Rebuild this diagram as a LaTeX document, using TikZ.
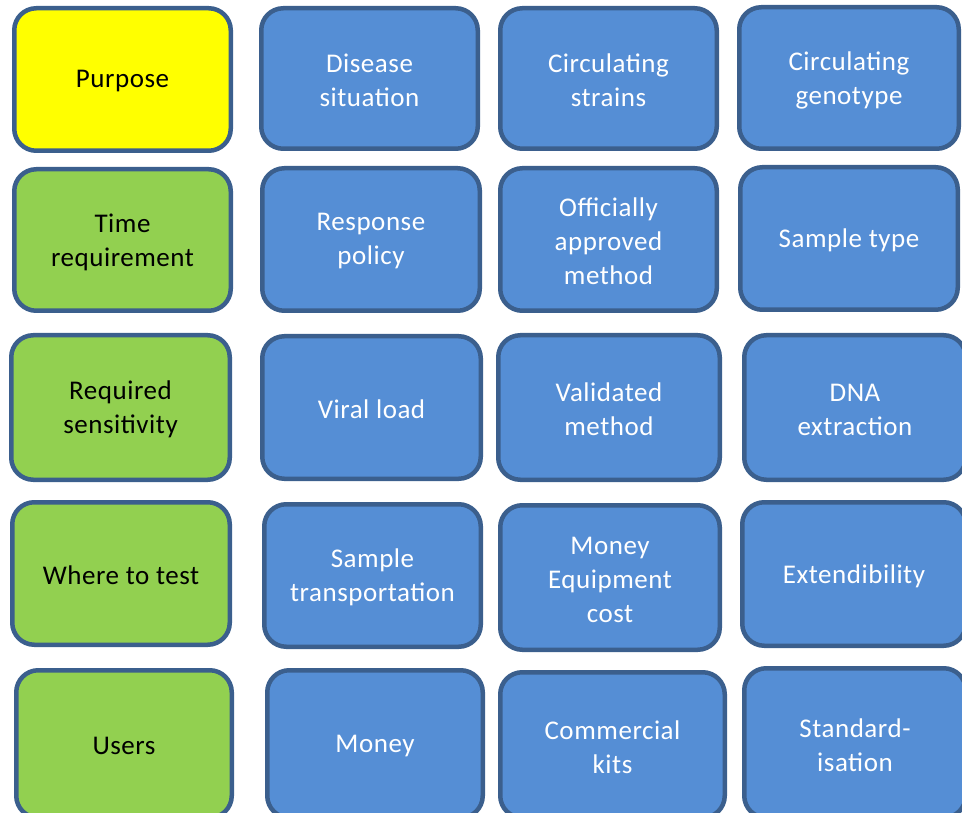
\documentclass[tikz,border=0pt]{standalone}
\usepackage{fontspec}
\setmainfont{Carlito}[LetterSpace=2]
\definecolor{edgeblue}{HTML}{3B5F8D}
\definecolor{cellblue}{HTML}{558ED5}
\definecolor{cellgreen}{HTML}{92D050}
\definecolor{cellyellow}{HTML}{FFFF00}
\tikzset{
  card/.style={draw=edgeblue, line width=4.5pt, rounded corners=22pt, inner sep=0pt},
  caption/.style={align=center, font=\fontsize{27}{34}\selectfont, inner sep=0pt},
  factor/.style={card, fill=cellblue},
  need/.style={card, fill=cellgreen},
  goal/.style={card, fill=cellyellow},
  factortext/.style={caption, text=white},
  needtext/.style={caption, text=black},
  goaltext/.style={caption, text=black},
}
% a card given by its outer extent x1, x2, y1, y2, with its caption a little below centre
\newcommand{\cardat}[7]{%
  \pgfmathsetmacro{\cw}{#3-#2-4.5}%
  \pgfmathsetmacro{\ch}{#5-#4-4.5}%
  \pgfmathsetmacro{\cx}{(#2+#3)/2}%
  \pgfmathsetmacro{\cy}{(#4+#5)/2}%
  \node[#1, minimum width=\cw pt, minimum height=\ch pt] (#6) at (\cx,\cy) {};%
  \node[#1text] (#6-text) at ([yshift=-2pt]#6.center) {#7};%
}
\begin{document}
\begin{tikzpicture}[x=1pt, y=-1pt]
\useasboundingbox (0,0) rectangle (962,813);
\clip (0,0) rectangle (962,813);
% row 1
\cardat{goal}{12}{233}{6}{153}{purpose}{Purpose}
\cardat{factor}{259}{480}{6}{151}{disease}{Disease\\situation}
\cardat{factor}{498}{719}{6}{151}{strains}{Circulating\\strains}
\cardat{factor}{737}{961}{5}{151}{genotype}{Circulating\\genotype}
% row 2
\cardat{need}{12}{233}{167}{313}{time}{Time\\requirement}
\cardat{factor}{260}{482}{166}{313}{policy}{Response\\policy}
\cardat{factor}{498}{719}{166}{313}{approved}{Officially\\approved\\method}
\cardat{factor}{738}{960}{165}{312}{sampletype}{Sample type}
% row 3
\cardat{need}{9}{232}{333}{482}{sensitivity}{Required\\sensitivity}
\cardat{factor}{260}{483}{334}{481}{viral}{Viral load}
\cardat{factor}{496}{722}{333}{482}{validated}{Validated\\method}
\cardat{factor}{742}{968}{333}{482}{dna}{DNA\\extraction}
% row 4
\cardat{need}{10}{232}{500}{647}{where}{Where to test}
\cardat{factor}{262}{483}{502}{649}{transport}{Sample\\transportation}
\cardat{factor}{498}{722}{503}{652}{equipment}{Money\\Equipment\\cost}
\cardat{factor}{740}{968}{500}{648}{extend}{Extendibility}
% row 5
\cardat{need}{14}{234}{668}{820}{users}{Users}
\cardat{factor}{265}{485}{668}{820}{money}{Money}
\cardat{factor}{498}{727}{670}{820}{kits}{Commercial\\kits}
\cardat{factor}{742}{968}{666}{820}{standard}{Standard-\\isation}
\end{tikzpicture}
\end{document}
